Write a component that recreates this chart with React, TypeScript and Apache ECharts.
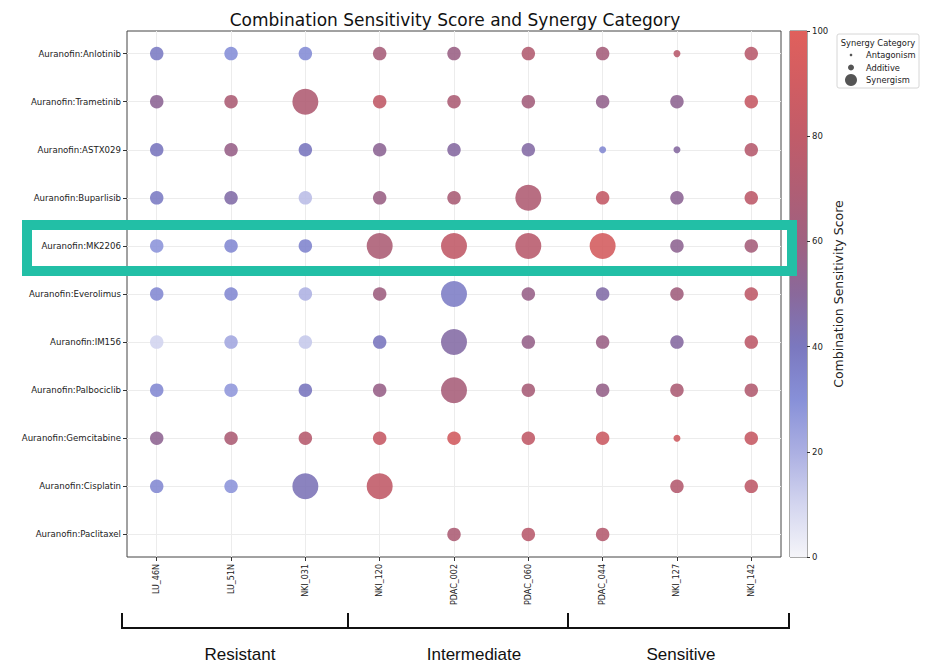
import React, { useEffect, useRef } from "react";
import * as echarts from "echarts";

const cellLines = ["LU_46N", "LU_51N", "NKI_031", "NKI_120", "PDAC_002", "PDAC_060", "PDAC_044", "NKI_127", "NKI_142"];
const drugs = [
  "Auranofin:Anlotinib",
  "Auranofin:Trametinib",
  "Auranofin:ASTX029",
  "Auranofin:Buparlisib",
  "Auranofin:MK2206",
  "Auranofin:Everolimus",
  "Auranofin:IM156",
  "Auranofin:Palbociclib",
  "Auranofin:Gemcitabine",
  "Auranofin:Cisplatin",
  "Auranofin:Paclitaxel",
];
// Combination Sensitivity Score (rows = drugs, columns = cell lines)
const scores: (number | null)[][] = [
  [38, 30, 31, 65, 58, 72, 64, 75, 75],
  [52, 68, 70, 80, 68, 63, 55, 53, 83],
  [40, 57, 40, 52, 48, 47, 32, 48, 74],
  [38, 46, 16, 58, 67, 70, 82, 52, 78],
  [28, 32, 34, 68, 80, 75, 92, 53, 64],
  [32, 32, 19, 60, 37, 57, 46, 62, 79],
  [10, 22, 13, 40, 47, 56, 58, 48, 78],
  [32, 27, 40, 57, 65, 66, 56, 68, 72],
  [53, 68, 74, 83, 90, 80, 86, 88, 84],
  [32, 28, 42, 80, null, null, null, 73, 79],
  [null, null, null, null, 68, 75, 73, null, null],
];
// Synergy category: N = Antagonism, A = Additive, S = Synergism
const synergy: string[] = [
  "AAAAAAANA",
  "AASAAAAAA",
  "AAAAAANNA",
  "AAAAASAAA",
  "AAASSSSAA",
  "AAAASAAAA",
  "AAAASAAAA",
  "AAAASAAAA",
  "AAAAAAANA",
  "AASS---AA",
  "----AAA--",
];
const categoryNames: Record<string, string> = { N: "Antagonism", A: "Additive", S: "Synergism" };
const categorySizes: Record<string, number> = { N: 7, A: 13.5, S: 26 };

const groups = ["Resistant", "Intermediate", "Sensitive"];
const colorTicks = [0, 20, 40, 60, 80, 100];
const cmap = ["#f5f5f9", "#d3d5ef", "#abafe2", "#8790d8", "#7b78bf", "#8a699b", "#9f6181", "#b05e74", "#c15c69", "#d15d62", "#e0605c"];

const idx = (n: number) => Array.from({ length: n }, (_, i) => i);

export default function App() {
  const ref = useRef<HTMLDivElement>(null);
  useEffect(() => {
    if (!ref.current) return;
    const chart = echarts.init(ref.current, null, { renderer: "svg" });

    const points: any[] = [];
    scores.forEach((row, r) =>
      row.forEach((v, c) => {
        if (v === null || v === undefined) return;
        const cat = synergy[r][c];
        points.push({ value: [c, r, v, categoryNames[cat]], symbolSize: categorySizes[cat] });
      })
    );

    const gradStops = cmap
      .map((col, i) => ({ offset: 1 - i / (cmap.length - 1), color: col }))
      .reverse();

    const textFont = "DejaVu Sans";
    const option: any = {
      animation: false,
      backgroundColor: "#ffffff",
      title: {
        text: "Combination Sensitivity Score and Synergy Category",
        left: 450,
        top: 6,
        textAlign: "center",
        textStyle: { fontFamily: textFont, fontSize: 17, fontWeight: "normal", color: "#111" },
      },
      grid: [
        { left: 127, top: 31, width: 654, height: 526, show: true, borderColor: "#444", borderWidth: 1, backgroundColor: "transparent" },
        { left: 790, top: 31, width: 17, height: 526, show: true, borderColor: "#555", borderWidth: 1, backgroundColor: "transparent" },
      ],
      xAxis: [
        {
          type: "value",
          gridIndex: 0,
          min: -0.4,
          max: 8.4,
          position: "bottom",
          axisLine: { show: false, onZero: false },
          axisTick: { show: true, length: 4, lineStyle: { color: "#333" }, customValues: idx(cellLines.length) },
          axisLabel: {
            customValues: idx(cellLines.length),
            formatter: (v: number) => cellLines[Math.round(v)] ?? "",
            rotate: 90,
            margin: 7,
            fontSize: 8,
            fontFamily: textFont,
            color: "#222",
          },
          splitLine: { show: true, lineStyle: { color: "#ececec", width: 1 } },
        },
        { type: "category", gridIndex: 1, data: [""], show: false },
      ],
      yAxis: [
        {
          type: "value",
          gridIndex: 0,
          inverse: true,
          min: -0.47,
          max: 10.47,
          position: "left",
          axisLine: { show: false, onZero: false },
          axisTick: { show: true, length: 4, lineStyle: { color: "#333" }, customValues: idx(drugs.length) },
          axisLabel: {
            customValues: idx(drugs.length),
            formatter: (v: number) => drugs[Math.round(v)] ?? "",
            margin: 6,
            fontSize: 8.6,
            fontFamily: textFont,
            color: "#222",
          },
          splitLine: { show: true, lineStyle: { color: "#ececec", width: 1 } },
        },
        {
          type: "value",
          gridIndex: 1,
          position: "right",
          min: 0,
          max: 100,
          interval: 20,
          name: "Combination Sensitivity Score",
          nameLocation: "middle",
          nameRotate: 90,
          nameGap: 24,
          nameTextStyle: { fontFamily: textFont, fontSize: 12.5, color: "#222" },
          axisLine: { show: false, onZero: false },
          axisTick: { show: true, length: 3, lineStyle: { color: "#333" } },
          axisLabel: { margin: 5, fontSize: 8.5, fontFamily: textFont, color: "#222", customValues: colorTicks },
          splitLine: { show: false },
        },
      ],
      visualMap: {
        show: false,
        type: "continuous",
        seriesIndex: 0,
        dimension: 2,
        min: 0,
        max: 100,
        inRange: { color: cmap },
      },
      series: [
        {
          type: "scatter",
          xAxisIndex: 0,
          yAxisIndex: 0,
          data: points,
          itemStyle: { opacity: 0.9 },
        },
        {
          type: "bar",
          xAxisIndex: 1,
          yAxisIndex: 1,
          data: [100],
          barWidth: "100%",
          silent: true,
          itemStyle: { color: new echarts.graphic.LinearGradient(0, 0, 0, 1, gradStops) },
        },
      ],
      graphic: [
        // legend
        { type: "rect", shape: { x: 837, y: 34, width: 82, height: 54, r: 2 }, style: { fill: "#fff", stroke: "#d6d6d6", lineWidth: 1 } },
        { type: "text", x: 878, y: 43, style: { text: "Synergy Category", fontSize: 8.3, fontFamily: textFont, fill: "#222", align: "center", verticalAlign: "middle" } },
        { type: "circle", shape: { cx: 851, cy: 55, r: 1.3 }, style: { fill: "#555" } },
        { type: "circle", shape: { cx: 851, cy: 67.5, r: 3 }, style: { fill: "#555" } },
        { type: "circle", shape: { cx: 851, cy: 80, r: 6 }, style: { fill: "#555" } },
        { type: "text", x: 866, y: 55, style: { text: categoryNames.N, fontSize: 8.3, fontFamily: textFont, fill: "#222", verticalAlign: "middle" } },
        { type: "text", x: 866, y: 67.5, style: { text: categoryNames.A, fontSize: 8.3, fontFamily: textFont, fill: "#222", verticalAlign: "middle" } },
        { type: "text", x: 866, y: 80, style: { text: categoryNames.S, fontSize: 8.3, fontFamily: textFont, fill: "#222", verticalAlign: "middle" } },
        // highlight box
        { type: "rect", z: 100, shape: { x: 27, y: 225, width: 765, height: 46 }, style: { fill: "none", stroke: "#22bfa6", lineWidth: 10 } },
        // group brackets
        { type: "polyline", shape: { points: [[122, 613], [122, 628], [789, 628], [789, 613]] }, style: { stroke: "#111", lineWidth: 2, fill: "none" } },
        { type: "line", shape: { x1: 348, y1: 613, x2: 348, y2: 628 }, style: { stroke: "#111", lineWidth: 2 } },
        { type: "line", shape: { x1: 568, y1: 613, x2: 568, y2: 628 }, style: { stroke: "#111", lineWidth: 2 } },
        { type: "text", x: 240, y: 654, style: { text: groups[0], fontSize: 17, fontFamily: "Liberation Sans", fill: "#111", align: "center", verticalAlign: "middle" } },
        { type: "text", x: 474, y: 654, style: { text: groups[1], fontSize: 17, fontFamily: "Liberation Sans", fill: "#111", align: "center", verticalAlign: "middle" } },
        { type: "text", x: 681, y: 654, style: { text: groups[2], fontSize: 17, fontFamily: "Liberation Sans", fill: "#111", align: "center", verticalAlign: "middle" } },
      ],
    };
    chart.setOption(option);
    return () => chart.dispose();
  }, []);
  return <div ref={ref} style={{ position: "fixed", left: 0, top: 0, width: 933, height: 666, background: "#fff" }} />;
}
